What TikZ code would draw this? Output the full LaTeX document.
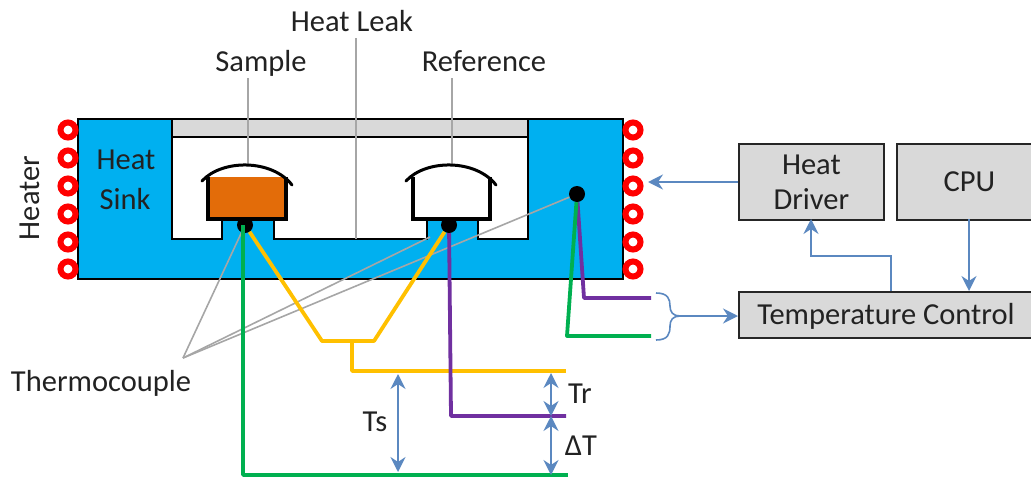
\documentclass[tikz,border=0pt]{standalone}
\usepackage{fontspec}
\setmainfont{Carlito}
\usetikzlibrary{arrows.meta,calc}
\definecolor{sinkblue}{HTML}{00B0F0}
\definecolor{boxgrey}{HTML}{D9D9D9}
\definecolor{samplefill}{HTML}{E36C09}
\definecolor{arrowblue}{HTML}{5B88C0}
\definecolor{wireyellow}{HTML}{FFC000}
\definecolor{wiregreen}{HTML}{00B050}
\definecolor{wirepurple}{HTML}{7030A0}
\definecolor{leadergrey}{HTML}{A6A6A6}
\definecolor{txt}{HTML}{222222}
\tikzset{
  lbl/.style={font=\fontsize{30.5}{31}\selectfont,text=txt,inner sep=0pt},
  boxnode/.style={draw=black!85,line width=1.8pt,fill=boxgrey,inner sep=0pt,anchor=north west,align=center,font=\fontsize{30.5}{35}\selectfont,text=txt},
  coil/.style={circle,draw=red,line width=6pt,fill=white,minimum size=15pt,inner sep=0pt},
  junction/.style={circle,fill=black,minimum size=16pt,inner sep=0pt},
  leader/.style={draw=leadergrey,line width=1.6pt},
  flow/.style={draw=arrowblue,line width=1.9pt,-{Stealth[length=15pt,width=15pt,inset=5pt]}},
  both/.style={draw=arrowblue,line width=1.9pt,{Stealth[length=15pt,width=15pt,inset=5pt]}-{Stealth[length=15pt,width=15pt,inset=5pt]}},
  wire/.style={line width=3.8pt,line join=round},
  pot/.style={draw=black,line width=3.6pt},
  lid/.style={draw=black,line width=3pt,line cap=round},
}
\begin{document}
\begin{tikzpicture}[x=1pt,y=-1pt]
\useasboundingbox (0,0) rectangle (1031,477);
% heat sink
\draw[fill=sinkblue,draw=black,line width=1.8pt]
  (78,119) -- (623,119) -- (623,279) -- (78,279) -- cycle;
\draw[fill=white,draw=black,line width=1.8pt]
  (172,119) -- (172,239) -- (222,239) -- (222,220) -- (274,220) -- (274,239)
  -- (427,239) -- (427,220) -- (478,220) -- (478,239) -- (528,239) -- (528,119) -- cycle;
\draw[fill=boxgrey,draw=black,line width=1.8pt] (172,119) rectangle (528,137);
% coils
\foreach \n/\y in {1/130,2/158,3/186,4/214,5/242,6/269}{
  \node[coil] (cl\n) at (68,\y) {};
  \node[coil] (cr\n) at (633,\y) {};
}
% labels
\node[lbl] (heatleak) at (352,21) {Heat Leak};
\node[lbl] (samplelbl) at (261,63) {Sample};
\node[lbl] (reflbl) at (484,61) {Reference};
\node[lbl] (hs1) at (126,160) {Heat};
\node[lbl] (hs2) at (125,199) {Sink};
\node[lbl,rotate=90] (heaterlbl) at (30,198) {Heater};
\node[lbl] (tclbl) at (101,383) {Thermocouple};
% leaders
\coordinate (sampletop) at (248,165);
\coordinate (reftop) at (452,165);
\coordinate (leakend) at (356,239);
\draw[leader] (248,78) -- (sampletop);
\draw[leader] (452,78) -- (reftop);
\draw[leader] (356,38) -- (leakend);
% crucibles
\draw[pot,fill=samplefill] (208,177) -- (208,219) -- (286,219) -- (286,177);
\draw[lid] (202,181) .. controls (222,159) and (272,159) .. (292,185);
\draw[pot,fill=white] (413,177) -- (413,219) -- (490,219) -- (490,177);
\draw[lid] (406,181) .. controls (426,159) and (476,159) .. (496,185);
% junctions
\node[junction] (js) at (245,225) {};
\node[junction] (jr) at (449,225) {};
\node[junction] (jh) at (577,194) {};
% thermocouple leaders
\coordinate (tcfan) at (183,358);
\coordinate (jrleft) at (430,237);
\draw[leader] (tcfan) -- (js);
\draw[leader] (tcfan) -- (jrleft);
\draw[leader] (tcfan) -- (jh);
% wires
\coordinate (yl) at (322,341);
\coordinate (yr) at (374,341);
\coordinate (ym) at (352,341);
\coordinate (ye) at (566,371);
\coordinate (pe) at (566,416);
\coordinate (ge) at (568,475);
\coordinate (p2) at (651,298);
\coordinate (g2) at (651,336);
\draw[wire,wireyellow] (js) -- (yl) -- (yr) -- (jr);
\draw[wire,wireyellow] (ym) -- (352,371) -- (ye);
\draw[wire,wirepurple] (jr) -- (451,416) -- (pe);
\draw[wire,wiregreen] (243,225) -- (243,475) -- (ge);
\draw[wire,wirepurple] (jh) -- (584,298) -- (p2);
\draw[wire,wiregreen] (jh) -- (567,336) -- (g2);
% boxes
\node[boxnode,minimum width=145pt,minimum height=76pt] (driver) at (738,143) {Heat\\Driver};
\node[boxnode,minimum width=145pt,minimum height=76pt] (cpu) at (896,143) {CPU};
\node[boxnode,minimum width=300pt,minimum height=46pt] (tc) at (738,291) {};
\node[lbl] (tctext) at (886,316) {Temperature Control};
% brace
\coordinate (btip) at (680,316);
\draw[arrowblue,line width=1.6pt] (656,293) .. controls (668,293) and (670,299) .. (670,306)
  .. controls (670,312) and (673,316) .. (btip)
  .. controls (673,316) and (670,320) .. (670,326)
  .. controls (670,334) and (668,340) .. (656,340);
\draw[flow] (btip) -- (tc.west |- btip);
% arrows
\coordinate (coilin) at (648,182);
\draw[flow] (driver.west |- coilin) -- (coilin);
\draw[flow] (891,291) -- (891,256) -- (811,256) -- (811,219);
\draw[flow] (969,219) -- (969,291);
\draw[both] (398,374) -- (398,472);
\draw[both] (551,373) -- (551,416);
\draw[both] (551,416) -- (551,475);
\node[lbl] (tr) at (580,394) {Tr};
\node[lbl] (ts) at (375,422) {Ts};
\node[lbl] (dt) at (581,446) {ΔT};
\end{tikzpicture}
\end{document}
